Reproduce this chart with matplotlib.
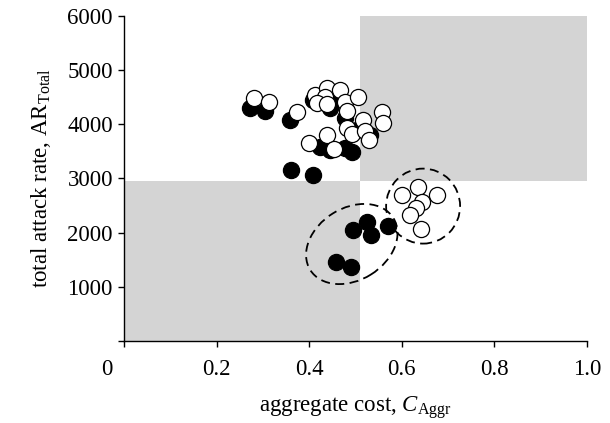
#!/usr/bin/env python3

import numpy as np
import matplotlib
matplotlib.use("Agg")
import matplotlib.pyplot as plt
import matplotlib.transforms as mtransforms
from matplotlib.patches import Rectangle, Ellipse

# filled circles
black_x = [0.272, 0.305, 0.359, 0.361, 0.408, 0.408, 0.423, 0.445, 0.477, 0.492,
           0.445, 0.477, 0.510, 0.531, 0.456,
           0.495, 0.525, 0.533, 0.570, 0.458, 0.490]
black_y = [4300, 4250, 4080, 3150, 3060, 4450, 3580, 3530, 3560, 3490,
           4300, 4120, 3930, 3800, 4450,
           2050, 2200, 1960, 2120, 1460, 1370]

# open circles
open_x = [0.281, 0.313, 0.374, 0.413, 0.438, 0.467, 0.434, 0.417, 0.438, 0.477,
          0.505, 0.482, 0.557, 0.516, 0.559, 0.482, 0.492, 0.521, 0.529, 0.438,
          0.400, 0.454,
          0.600, 0.635, 0.676, 0.644, 0.631, 0.618, 0.641]
open_y = [4490, 4410, 4230, 4540, 4670, 4630, 4500, 4390, 4370, 4410,
          4500, 4250, 4230, 4080, 4020, 3930, 3820, 3880, 3710, 3800,
          3650, 3540,
          2690, 2840, 2690, 2570, 2450, 2330, 2070]

x_split = 0.51
y_split = 2950

x_ticks = [0, 0.2, 0.4, 0.6, 0.8, 1.0]
x_labels = ["0", "0.2", "0.4", "0.6", "0.8", "1.0"]
y_ticks = [0, 1000, 2000, 3000, 4000, 5000, 6000]
y_labels = ["", "1000", "2000", "3000", "4000", "5000", "6000"]

plt.rcParams['font.family'] = ['Liberation Serif', 'DejaVu Serif']
plt.rcParams['mathtext.fontset'] = 'custom'
plt.rcParams['mathtext.rm'] = 'Liberation Serif'
plt.rcParams['mathtext.it'] = 'Liberation Serif:italic'


def main():
    fig = plt.figure(figsize=(6.1, 4.23), dpi=100)
    ax = fig.add_axes([0.2033, 0.1939, 0.759, 0.7683])

    # shaded quadrants
    ax.add_patch(Rectangle((0, 0), x_split, y_split, color='#d4d4d4', lw=0, zorder=0))
    ax.add_patch(Rectangle((x_split, y_split), 1 - x_split, 6000 - y_split,
                           color='#d4d4d4', lw=0, zorder=0))

    ax.scatter(black_x, black_y, s=135, c='black', edgecolors='black',
               linewidths=0.9, zorder=3)
    ax.scatter(open_x, open_y, s=135, c='white', edgecolors='black',
               linewidths=0.9, zorder=4)

    # dashed groupings, sized in inches around a data centre
    for cx, cy, w, h, ang in [(0.646, 2490, 0.74, 0.75, 0),
                              (0.492, 1790, 0.98, 0.72, 32)]:
        tr = fig.dpi_scale_trans + mtransforms.ScaledTranslation(cx, cy, ax.transData)
        ax.add_patch(Ellipse((0, 0), w, h, angle=ang, transform=tr, fill=False,
                             ec='black', lw=1.3, ls=(0, (5, 3)), zorder=5))

    ax.set_xlim(0, 1.0)
    ax.set_ylim(0, 6000)
    ax.spines['top'].set_visible(False)
    ax.spines['right'].set_visible(False)
    ax.spines['left'].set_linewidth(1.0)
    ax.spines['bottom'].set_linewidth(1.0)

    ax.set_xticks(x_ticks)
    ax.set_xticklabels(x_labels)
    ax.set_yticks(y_ticks)
    ax.set_yticklabels(y_labels)
    ax.tick_params(direction='out', length=4, width=1.0, labelsize=16.5, pad=9)
    ax.tick_params(axis='y', pad=4)

    # shift the origin label left
    lab0 = ax.get_xticklabels()[0]
    lab0.set_transform(lab0.get_transform() +
                       mtransforms.ScaledTranslation(-0.17, 0, fig.dpi_scale_trans))

    ax.set_xlabel(r"aggregate cost, $C_{\mathrm{Aggr}}$", fontsize=16.5, labelpad=10)
    ax.set_ylabel(r"total attack rate, $\mathrm{AR}_{\mathrm{Total}}$", fontsize=16.5,
                  labelpad=10)

    fig.savefig("out.png", dpi=100)


if __name__ == "__main__":
    main()
